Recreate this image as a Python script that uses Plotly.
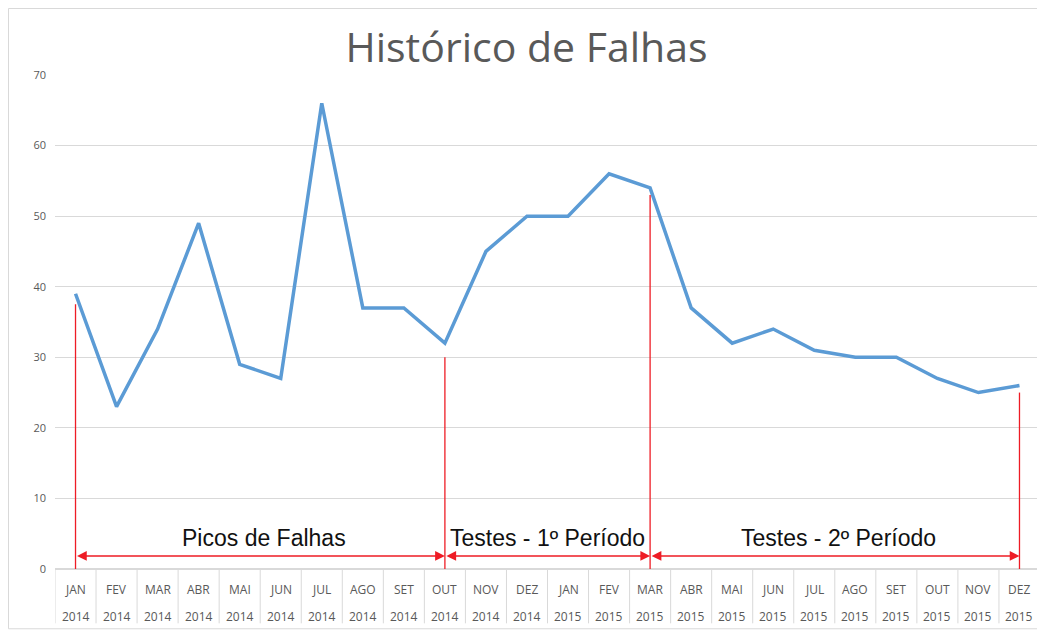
import plotly.graph_objects as go

meses = ["JAN", "FEV", "MAR", "ABR", "MAI", "JUN", "JUL", "AGO", "SET", "OUT", "NOV", "DEZ"] * 2
anos = ["2014"] * 12 + ["2015"] * 12
falhas = [39, 23, 34, 49, 29, 27, 66, 37, 37, 32, 45, 50,
          50, 56, 54, 37, 32, 34, 31, 30, 30, 27, 25, 26]

# period markers: index of month where each red vertical line sits, and its top
marcos = [0, 9, 14, 23]
marcos_topo = [37.5, 30, 53, 25]
periodos = ["Picos de Falhas", "Testes - 1º Período", "Testes - 2º Período"]
periodos_x = [4.6, 11.5, 18.6]

x = list(range(len(falhas)))

fig = go.Figure()
fig.add_trace(go.Scatter(x=x, y=falhas, mode="lines",
                         line=dict(color="#5B9BD5", width=3.5),
                         hoverinfo="y", showlegend=False))

shapes = []
annotations = []

# outer chart border
shapes.append(dict(type="rect", xref="paper", yref="paper",
                   x0=-0.0472, x1=1.0045, y0=-0.121, y1=1.1346,
                   line=dict(color="#D9D9D9", width=1), layer="below"))

# category table below the axis
for k in range(len(x) + 1):
    shapes.append(dict(type="line", xref="x", yref="paper",
                       x0=k - 0.5, x1=k - 0.5, y0=0, y1=-0.11,
                       line=dict(color="#D9D9D9", width=1)))
for i in x:
    annotations.append(dict(x=i, y=-0.041, xref="x", yref="paper", text=meses[i],
                            showarrow=False, yanchor="middle",
                            font=dict(size=12, color="#595959", family="Open Sans")))
    annotations.append(dict(x=i, y=-0.096, xref="x", yref="paper", text=anos[i],
                            showarrow=False, yanchor="middle",
                            font=dict(size=12, color="#595959", family="Open Sans")))

# red period markers
for m, top in zip(marcos, marcos_topo):
    shapes.append(dict(type="line", xref="x", yref="y", x0=m, x1=m, y0=-1.2, y1=top,
                       line=dict(color="#EE1C25", width=1.3)))
for a, b in zip(marcos[:-1], marcos[1:]):
    annotations.append(dict(x=b, y=1.85, ax=a, ay=1.85, xref="x", yref="y",
                            axref="x", ayref="y", text="", showarrow=True,
                            arrowhead=2, startarrowhead=2, arrowside="end+start",
                            arrowsize=1.3, startarrowsize=1.3, arrowwidth=1.5,
                            arrowcolor="#EE1C25", standoff=0, startstandoff=0))
for t, px in zip(periodos, periodos_x):
    annotations.append(dict(x=px, y=4.4, xref="x", yref="y", text=t, showarrow=False,
                            font=dict(size=23, color="#111111", family="Liberation Sans")))

fig.update_layout(
    width=1037, height=624,
    margin=dict(l=47, r=5, t=67, b=63),
    paper_bgcolor="white", plot_bgcolor="white",
    title=dict(text="Histórico de Falhas", x=0.5, xanchor="center", y=0.936,
               yanchor="middle", font=dict(size=41, color="#595959", family="Open Sans")),
    shapes=shapes, annotations=annotations,
    xaxis=dict(range=[-0.5, 23.5], showticklabels=False, showgrid=False,
               zeroline=False, showline=False, ticks=""),
    yaxis=dict(range=[0, 70], dtick=10, showgrid=True, gridcolor="#D9D9D9",
               zeroline=True, zerolinecolor="#D9D9D9", showline=False,
               tickfont=dict(size=11, color="#595959", family="Open Sans"),
               ticklabelstandoff=8),
)

fig.write_html("out.html")
